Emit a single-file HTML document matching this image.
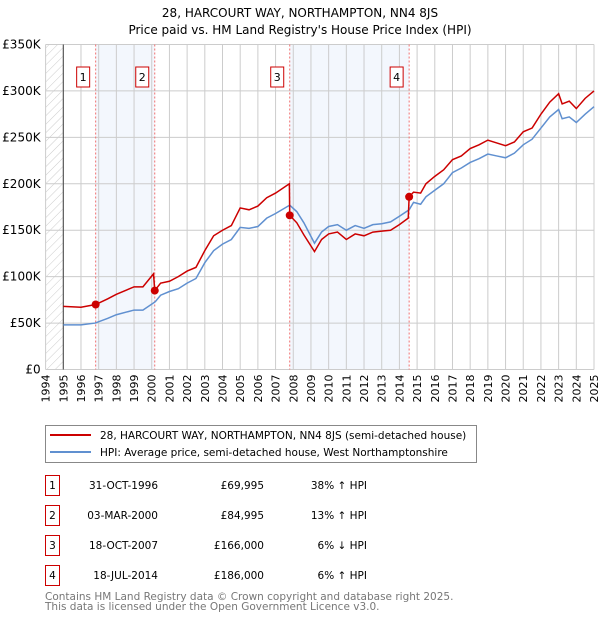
<!DOCTYPE html>
<html><head><meta charset="utf-8"><style>
body{margin:0;background:#fff;font-family:"DejaVu Sans","Liberation Sans",sans-serif;}
</style></head><body>
<svg width="600" height="620" xmlns="http://www.w3.org/2000/svg" style="font-family:'DejaVu Sans','Liberation Sans',sans-serif">
<defs><pattern id="hatch" width="6" height="6" patternUnits="userSpaceOnUse" patternTransform="rotate(45)"><line x1="0" y1="0" x2="0" y2="6" stroke="#ccc" stroke-width="1"/></pattern></defs>
<text x="300" y="17" text-anchor="middle" font-size="12">28, HARCOURT WAY, NORTHAMPTON, NN4 8JS</text>
<text x="300" y="34" text-anchor="middle" font-size="12">Price paid vs. HM Land Registry's House Price Index (HPI)</text>
<g id="plot"></g>
<g>
<rect x="45.5" y="425.5" width="431" height="37" fill="#fff" stroke="#888"/>
<line x1="50" y1="435" x2="91" y2="435" stroke="#cc0000" stroke-width="2"/>
<text x="100" y="439" font-size="10.5">28, HARCOURT WAY, NORTHAMPTON, NN4 8JS (semi-detached house)</text>
<line x1="50" y1="452" x2="91" y2="452" stroke="#6090d0" stroke-width="2"/>
<text x="100" y="456" font-size="10.5">HPI: Average price, semi-detached house, West Northamptonshire</text>
</g>
<g id="table" font-size="10.5"></g>
<text x="45" y="600" font-size="10.5" fill="#777">Contains HM Land Registry data © Crown copyright and database right 2025.</text>
<text x="45" y="610" font-size="10.5" fill="#777">This data is licensed under the Open Government Licence v3.0.</text>
</svg>
<script>
const hpiYears=[1995,1996,1996.8,1997.5,1998,1999,1999.5,2000.2,2000.5,2001,2001.5,2002,2002.5,2003,2003.5,2004,2004.5,2005,2005.5,2006,2006.5,2007,2007.8,2008.2,2008.6,2009.2,2009.6,2010,2010.5,2011,2011.5,2012,2012.5,2013,2013.5,2014,2014.55,2014.8,2015.2,2015.5,2016,2016.5,2017,2017.5,2018,2018.5,2019,2019.5,2020,2020.5,2021,2021.5,2022,2022.5,2023,2023.2,2023.6,2024,2024.5,2025];
const hpiValues=[48,48,50,55,59,64,64,73,80,84,87,93,98,115,128,135,140,153,152,154,163,168,177,170,158,136,148,154,156,150,155,152,156,157,159,165,172,180,178,186,193,200,212,217,223,227,232,230,228,233,242,248,260,272,280,270,272,266,275,283];
const priceYears=[1995,1996,1996.83,1997.5,1998,1999,1999.5,2000.1,2000.17,2000.5,2001,2001.5,2002,2002.5,2003,2003.5,2004,2004.5,2005,2005.5,2006,2006.5,2007,2007.78,2007.8,2008.2,2008.6,2009.2,2009.6,2010,2010.5,2011,2011.5,2012,2012.5,2013,2013.5,2014,2014.5,2014.55,2014.8,2015.2,2015.5,2016,2016.5,2017,2017.5,2018,2018.5,2019,2019.5,2020,2020.5,2021,2021.5,2022,2022.5,2023,2023.2,2023.6,2024,2024.5,2025];
const priceValues=[68,67,70,76,81,89,89,103,85,93,95,100,106,110,128,144,150,155,174,172,176,185,190,200,166,158,145,127,140,146,148,140,146,144,148,149,150,156,163,186,191,190,200,208,215,226,230,238,242,247,244,241,245,256,260,275,288,297,286,289,281,292,300];
const saleLabels=["1","2","3","4"];
const saleYears=[1996.83,2000.17,2007.8,2014.55];
const salePrices=[69.995,84.995,166,186];
const saleDates=["31-OCT-1996","03-MAR-2000","18-OCT-2007","18-JUL-2014"];
const salePriceText=["£69,995","£84,995","£166,000","£186,000"];
const saleHpiText=["38% ↑ HPI","13% ↑ HPI","6% ↓ HPI","6% ↑ HPI"];
const yTicks=[0,50,100,150,200,250,300,350];
const yTickLabels=["£0","£50K","£100K","£150K","£200K","£250K","£300K","£350K"];
const NS="http://www.w3.org/2000/svg";
const X0=45.6,X1=594,Y0=369.5,Y1=44.5;
const xs=y=>X0+(y-1994)/(2025-1994)*(X1-X0);
const ys=v=>Y0-v/350*(Y0-Y1);
const plot=document.getElementById('plot');
function mk(tag,attrs,parent){const e=document.createElementNS(NS,tag);for(const k in attrs)e.setAttribute(k,attrs[k]);(parent||plot).appendChild(e);return e;}
mk('rect',{x:X0,y:Y1,width:xs(1995)-X0,height:Y0-Y1,fill:'url(#hatch)'});
for(let i=0;i<saleYears.length;i+=2){const r=mk('rect',{x:xs(saleYears[i]),y:Y1,width:xs(saleYears[i+1])-xs(saleYears[i]),height:Y0-Y1,fill:'#eef3fc',opacity:0.7});

}
for(let yr=1994;yr<=2025;yr++){const l=mk('line',{x1:xs(yr),x2:xs(yr),y1:Y1,y2:Y0,stroke:'#ccc','stroke-width':1});


const t=mk('text',{x:0,y:0,'font-size':11,'text-anchor':'end',transform:`translate(${xs(yr)+4},${Y0+5}) rotate(-90)`});
t.textContent=yr;

}
yTicks.forEach((v,i)=>{const l=mk('line',{x1:X0,x2:X1,y1:ys(v),y2:ys(v),stroke:'#ccc','stroke-width':1});


const t=mk('text',{x:X0-5,y:ys(v)+4,'font-size':12,'text-anchor':'end'});
t.textContent=yTickLabels[i];

});
mk('line',{x1:xs(1995),x2:xs(1995),y1:Y1,y2:Y0,stroke:'#444','stroke-width':1});
saleYears.forEach((yr,i)=>{const l=mk('line',{x1:xs(yr),x2:xs(yr),y1:Y1,y2:Y0,stroke:'#f07070','stroke-width':1,'stroke-dasharray':'2,2'});


const g=mk('g',{});


mk('rect',{x:xs(yr)-19,y:67,width:13,height:20,fill:'#fff',stroke:'#cc0000'},g);
const t=mk('text',{x:xs(yr)-12.5,y:81,'font-size':11,'text-anchor':'middle'},g);t.textContent=saleLabels[i];});
const hp=mk('polyline',{points:hpiYears.map((y,i)=>xs(y)+','+ys(hpiValues[i])).join(' '),fill:'none',stroke:'#6090d0','stroke-width':1.5});


const pp=mk('polyline',{points:priceYears.map((y,i)=>xs(y)+','+ys(priceValues[i])).join(' '),fill:'none',stroke:'#cc0000','stroke-width':1.5});


saleYears.forEach((yr,i)=>{const c=mk('circle',{cx:xs(yr),cy:ys(salePrices[i]),r:4,fill:'#cc0000'});

});
const tb=document.getElementById('table');
saleLabels.forEach((lab,i)=>{const y0=475+i*30;
const g=mk('g',{},tb);


mk('rect',{x:45.5,y:y0+0.5,width:14,height:20,fill:'#fff',stroke:'#cc0000'},g);
let t=mk('text',{x:52.5,y:y0+14,'text-anchor':'middle'},g);t.textContent=lab;
t=mk('text',{x:158,y:y0+14,'text-anchor':'end'},g);t.textContent=saleDates[i];
t=mk('text',{x:264,y:y0+14,'text-anchor':'end'},g);t.textContent=salePriceText[i];
t=mk('text',{x:367,y:y0+14,'text-anchor':'end'},g);t.textContent=saleHpiText[i];});
</script>
</body></html>
